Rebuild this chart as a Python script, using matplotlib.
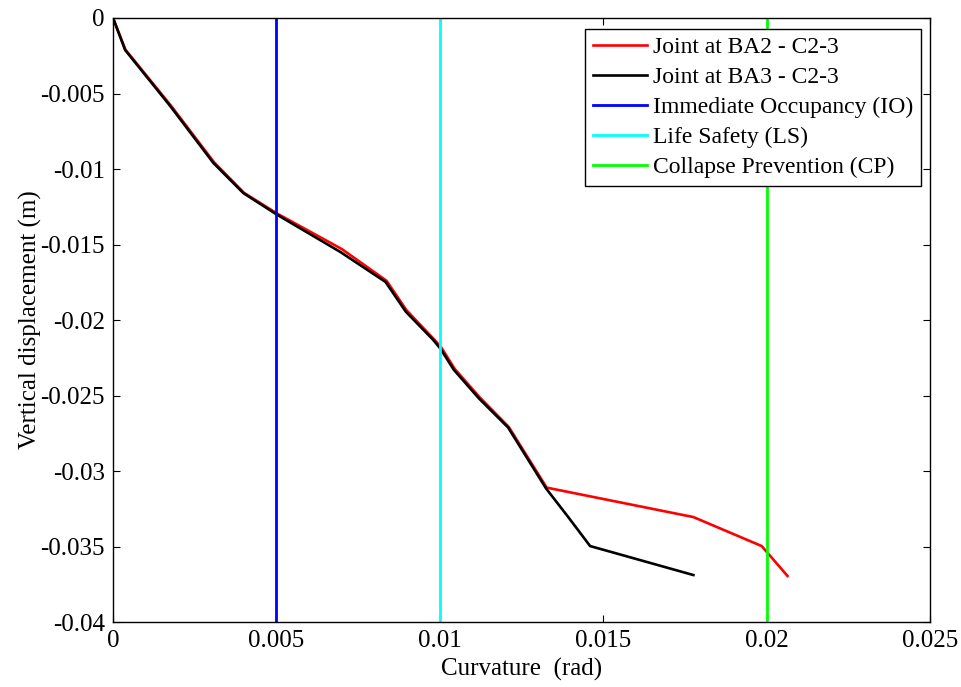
import matplotlib
matplotlib.use("Agg")
import matplotlib.pyplot as plt

# Data
curv_ba2 = [0.0, 0.00038, 0.00177, 0.00309, 0.00401, 0.00502, 0.00700, 0.00837,
            0.00898, 0.00981, 0.01004, 0.01046, 0.01122, 0.01211, 0.01327,
            0.01776, 0.01985, 0.02064]
disp_ba2 = [0.0, -0.00210, -0.00580, -0.00955, -0.01158, -0.01295, -0.01530, -0.01740,
            -0.01935, -0.02125, -0.02180, -0.02325, -0.02512, -0.02708, -0.03110,
            -0.03305, -0.03497, -0.03695]
curv_ba3 = [0.0, 0.00037, 0.00175, 0.00307, 0.00399, 0.00500, 0.00696, 0.00834,
            0.00896, 0.00979, 0.01002, 0.01043, 0.01120, 0.01209, 0.01325,
            0.01393, 0.01460, 0.01776]
disp_ba3 = [0.0, -0.00212, -0.00583, -0.00960, -0.01160, -0.01300, -0.01550, -0.01748,
            -0.01945, -0.02130, -0.02190, -0.02330, -0.02520, -0.02712, -0.03115,
            -0.03305, -0.03497, -0.03689]
limits = [0.005, 0.01, 0.02]
limit_labels = ["Immediate Occupancy (IO)", "Life Safety (LS)", "Collapse Prevention (CP)"]
limit_colors = ["#0000ff", "#00ffff", "#00ff00"]
xticks = [0, 0.005, 0.01, 0.015, 0.02, 0.025]
xticklabels = ["0", "0.005", "0.01", "0.015", "0.02", "0.025"]
yticks = [0, -0.005, -0.01, -0.015, -0.02, -0.025, -0.03, -0.035, -0.04]
yticklabels = ["0", "-0.005", "-0.01", "-0.015", "-0.02", "-0.025", "-0.03", "-0.035", "-0.04"]

plt.rcParams['font.family'] = ['Liberation Serif', 'DejaVu Serif']

fig = plt.figure(figsize=(9.62, 6.87), dpi=100)
ax = fig.add_axes([0.1175, 0.0946, 0.8492, 0.8792])

ax.plot(curv_ba2, disp_ba2, color="#ff0000", lw=1.9, label="Joint at BA2 - C2-3")
ax.plot(curv_ba3, disp_ba3, color="#000000", lw=1.9, label="Joint at BA3 - C2-3")
for xv, lab, c in zip(limits, limit_labels, limit_colors):
    ax.axvline(xv, color=c, lw=2.0, label=lab)

ax.set_xlim(0, 0.025)
ax.set_ylim(-0.04, 0)
ax.set_xticks(xticks)
ax.set_xticklabels(xticklabels)
ax.set_yticks(yticks)
ax.set_yticklabels(yticklabels)
ax.tick_params(direction="in", length=5, width=0.8, top=True, right=True,
               labelsize=18)
ax.tick_params(axis="x", pad=6)
ax.tick_params(axis="y", pad=6)
for s in ax.spines.values():
    s.set_linewidth(1.0)

ax.set_xlabel("Curvature  (rad)", fontsize=18, labelpad=4)
ax.set_ylabel("Vertical displacement (m)", fontsize=18, labelpad=-1)

leg = ax.legend(loc="upper right", bbox_to_anchor=(0.9890, 0.982), fontsize=17,
                frameon=True, fancybox=False, edgecolor="black", framealpha=1,
                handlelength=2.3, handletextpad=0.25, borderpad=0.33,
                labelspacing=0.36, borderaxespad=0)
leg.get_frame().set_linewidth(1.0)

fig.savefig("out.png", dpi=100)
